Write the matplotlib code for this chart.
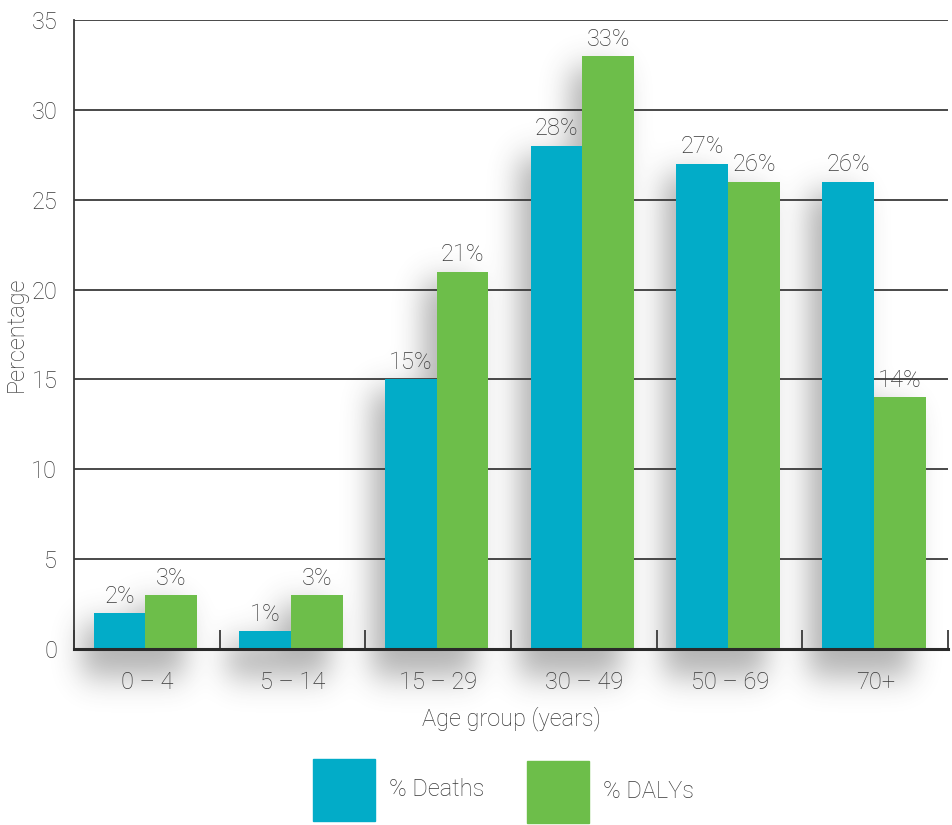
import numpy as np
import matplotlib
matplotlib.use("Agg")
import matplotlib.pyplot as plt
from matplotlib.patches import Rectangle

matplotlib.rcParams["font.family"] = ["Roboto", "DejaVu Sans"]
matplotlib.rcParams["font.weight"] = "light"
matplotlib.rcParams["axes.labelweight"] = "light"

# data
age_groups = ["0 – 4", "5 – 14", "15 – 29", "30 – 49", "50 – 69", "70+"]
pct_deaths = [2, 1, 15, 28, 27, 26]
pct_dalys = [3, 3, 21, 33, 26, 14]
series_names = ["% Deaths", "% DALYs"]
y_ticks = [0, 5, 10, 15, 20, 25, 30, 35]

blue = "#02acc8"
green = "#6dbe4a"
text_grey = "#383838"
line_grey = "#3a3a3a"
fs = 17

fig = plt.figure(figsize=(9.52, 8.25), dpi=100)
ax = fig.add_axes([0.0777, 0.2133, 0.9183, 0.7625])

x = np.arange(len(age_groups))
bar_w = 0.355
blue_left = x - 0.365
green_left = x - 0.01


# soft drop shadow behind the bars (gaussian-blurred mask)
def gaussian_blur(img, sigma):
    r = int(3 * sigma)
    k = np.exp(-0.5 * (np.arange(-r, r + 1) / sigma) ** 2)
    k /= k.sum()
    img = np.apply_along_axis(lambda v: np.convolve(v, k, mode="same"), 1, img)
    img = np.apply_along_axis(lambda v: np.convolve(v, k, mode="same"), 0, img)
    return img


x0, x1, y0, y1 = -0.8, 5.6, -5.0, 37.0
nx, ny = 470, 340
gx = np.linspace(x0, x1, nx)
gy = np.linspace(y0, y1, ny)
XX, YY = np.meshgrid(gx, gy)
mask = np.zeros_like(XX)
dx, dy = -0.09, -1.2
for lefts, vals in [(blue_left, pct_deaths), (green_left, pct_dalys)]:
    for l, v in zip(lefts, vals):
        inside = (XX >= l + dx) & (XX <= l + bar_w + dx) & (YY >= -0.4 + dy) & (YY <= v + dy + 0.6)
        mask[inside] = 1.0
blur = gaussian_blur(mask, 7.0)
shadow = np.zeros((ny, nx, 4))
shadow[..., :3] = 0.25
shadow[..., 3] = 0.4 * blur
ax.imshow(shadow, extent=[x0, x1, y0, y1], origin="lower", aspect="auto",
          interpolation="bilinear", zorder=0.5, clip_on=False)

ax.bar(blue_left, pct_deaths, width=bar_w, align="edge", color=blue, zorder=3, label=series_names[0])
ax.bar(green_left, pct_dalys, width=bar_w, align="edge", color=green, zorder=3, label=series_names[1])

for lefts, vals in [(blue_left, pct_deaths), (green_left, pct_dalys)]:
    for l, v in zip(lefts, vals):
        ax.text(l + bar_w / 2, v + 0.3, f"{v}%", ha="center", va="bottom",
                fontsize=fs, color=text_grey, zorder=4)

ax.set_xlim(-0.5, 5.5)
ax.set_ylim(0, 35)
ax.set_yticks(y_ticks)
ax.yaxis.grid(True, color=line_grey, linewidth=1.3, zorder=1)
ax.set_axisbelow(True)
ax.tick_params(axis="y", length=0, pad=12, labelsize=fs, labelcolor=text_grey)

# group separators as inward ticks, labels centred on groups
ax.set_xticks(np.arange(len(age_groups) + 1) - 0.5)
ax.set_xticklabels([])
ax.set_xticks(x, minor=True)
ax.set_xticklabels(age_groups, minor=True)
ax.tick_params(axis="x", which="major", direction="in", length=14, width=1.3, color=line_grey)
ax.tick_params(axis="x", which="minor", length=0, pad=16, labelsize=fs, labelcolor=text_grey)

for side in ["top", "right"]:
    ax.spines[side].set_visible(False)
ax.spines["left"].set_color(line_grey)
ax.spines["left"].set_linewidth(1.3)
ax.spines["bottom"].set_color("#2a2a2a")
ax.spines["bottom"].set_linewidth(2.2)
ax.spines["bottom"].set_zorder(5)

ax.set_xlabel("Age group (years)", fontsize=fs, color=text_grey, fontweight="light")
ax.set_ylabel("Percentage", fontsize=fs, color=text_grey, fontweight="light")
ax.xaxis.set_label_coords(0.5, -0.11)
ax.xaxis.label.set_va("center")
ax.yaxis.set_label_coords(-0.066, 0.5)
ax.yaxis.label.set_va("center")

# legend with large square swatches
fig.patches.append(Rectangle((313 / 952, 1 - 821 / 825), 62 / 952, 62 / 825,
                             transform=fig.transFigure, color=blue))
fig.patches.append(Rectangle((527 / 952, 1 - 823 / 825), 62 / 952, 62 / 825,
                             transform=fig.transFigure, color=green))
fig.text(389 / 952, 1 - 790 / 825, series_names[0], fontsize=fs, color=text_grey, va="center")
fig.text(603 / 952, 1 - 791 / 825, series_names[1], fontsize=fs, color=text_grey, va="center")

fig.savefig("out.png", dpi=100)
